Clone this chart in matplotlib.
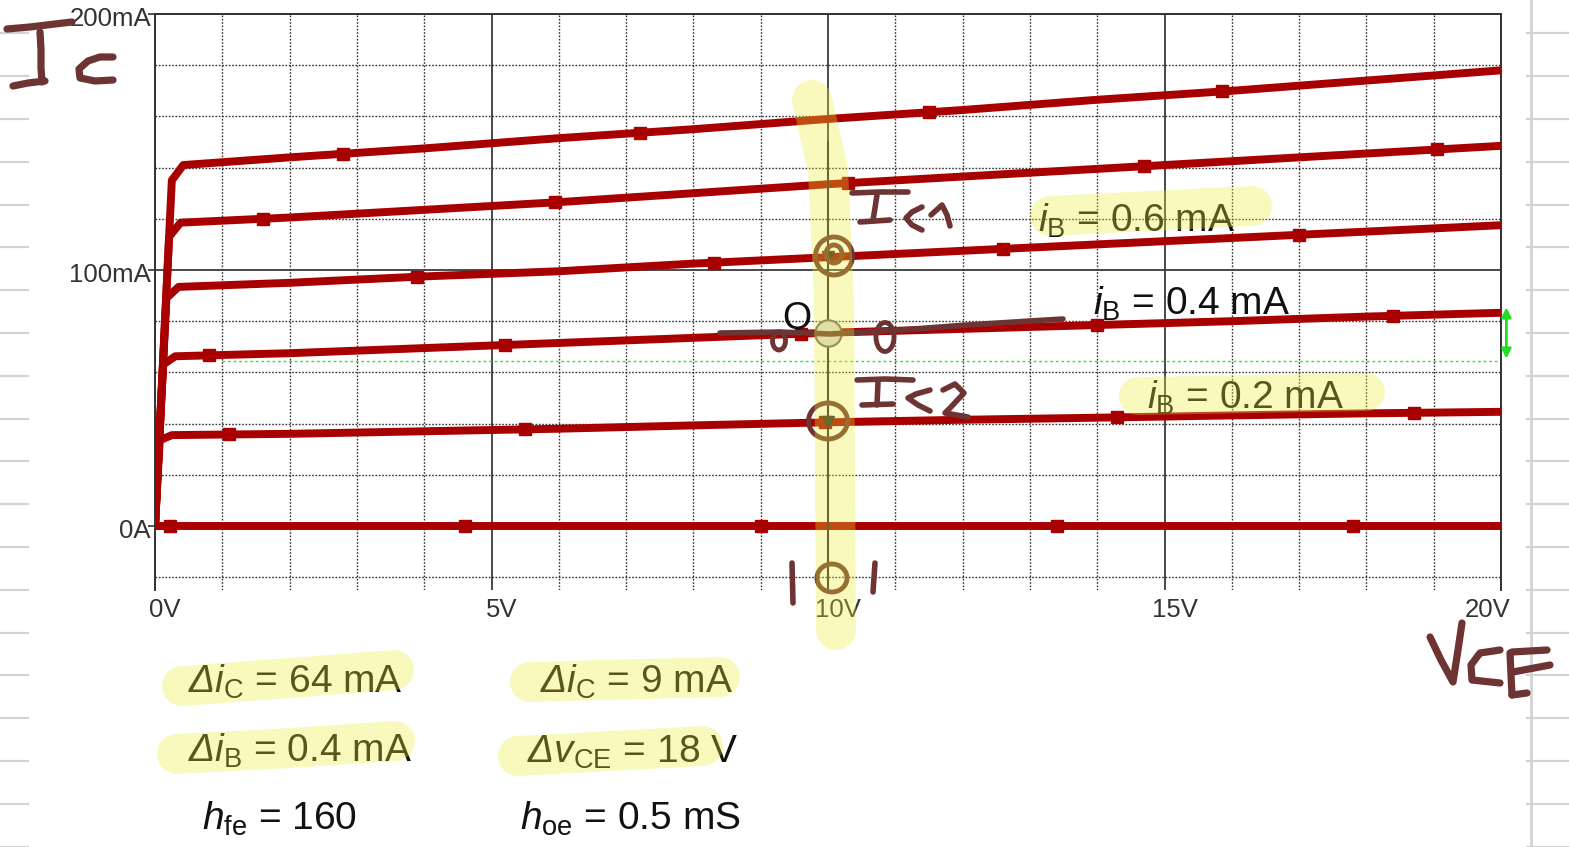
import numpy as np
import matplotlib
matplotlib.use('Agg')
import matplotlib.pyplot as plt
import matplotlib.transforms as mtransforms
from matplotlib.lines import Line2D
from matplotlib.patches import Ellipse, FancyArrowPatch

plt.rcParams['font.family'] = ['Liberation Sans', 'DejaVu Sans']
plt.rcParams['mathtext.fontset'] = 'custom'
plt.rcParams['mathtext.rm'] = 'Liberation Sans'
plt.rcParams['mathtext.it'] = 'Liberation Sans:italic'
plt.rcParams['mathtext.bf'] = 'Liberation Sans:bold'
# sans-serif slot used for the slanted Delta
plt.rcParams['mathtext.sf'] = 'Liberation Sans:italic'

# ---------------- data ----------------
x_ticks = [0, 5, 10, 15, 20]
x_tick_labels = ['0V', '5V', '10V', '15V', '20V']
x_minor = [1, 2, 3, 4, 6, 7, 8, 9, 11, 12, 13, 14, 16, 17, 18, 19]
y_ticks = [0, 100, 200]
y_tick_labels = ['0A', '100mA', '200mA']
y_minor = [-20, 20, 40, 60, 80, 120, 140, 160, 180]

# output characteristics (VCE in V, iC in mA), one curve per base current
vce_ib00 = [0, 20]
ic_ib00 = [0, 0]
vce_ib02 = [0, 0.07, 0.25, 2, 4, 6, 8, 10, 12, 14, 16, 18, 20]
ic_ib02 = [0, 33.5, 35.5, 36, 37, 38, 39.3, 40.5, 41.5, 42.3, 43.2, 44, 44.6]
vce_ib04 = [0, 0.12, 0.3, 2, 4, 6, 8, 10, 12, 14, 16, 18, 20]
ic_ib04 = [0, 63, 66.3, 67.5, 69.5, 71.5, 73.5, 75.5, 77, 78.5, 80, 81.8, 83.3]
vce_ib06 = [0, 0.17, 0.35, 2, 4, 6, 8, 10, 12, 14, 16, 18, 20]
ic_ib06 = [0, 89, 93.4, 95, 97.5, 99.5, 102.5, 105, 107.5, 110, 112.5, 115, 117.5]
vce_ib08 = [0, 0.21, 0.38, 2, 4, 6, 8, 10, 12, 14, 16, 18, 20]
ic_ib08 = [0, 113, 118.5, 120.5, 123.5, 126.5, 130, 133.5, 136.5, 139.5, 142.5, 145.5, 148.5]
vce_ib10 = [0, 0.25, 0.42, 2, 4, 6, 8, 10, 12, 14, 16, 18, 20]
ic_ib10 = [0, 135, 141, 144, 147.5, 151.5, 155, 159, 162.5, 166.5, 170, 174, 178]

# simulation sample markers (VCE positions) per curve
mk_ib00 = [0.22, 4.6, 9.0, 13.4, 17.8]
mk_ib02 = [1.1, 5.5, 9.95, 14.3, 18.7]
mk_ib04 = [0.8, 5.2, 9.6, 14.0, 18.4]
mk_ib06 = [3.9, 8.3, 12.6, 17.0]
mk_ib08 = [1.6, 5.95, 10.3, 14.7, 19.05]
mk_ib10 = [2.8, 7.2, 11.5, 15.85]

q_vce, q_ic = 10, 75.5
ic1 = 105.0
ic2 = 40.5
green_level = 64.6
green_arrow = (64.3, 86.5)

curve_labels = [r'$\mathit{i}_{\mathrm{B}}$ = 0.6 mA',
                r'$\mathit{i}_{\mathrm{B}}$ = 0.4 mA',
                r'$\mathit{i}_{\mathrm{B}}$ = 0.2 mA']
curve_label_pos = [(13.12, 114.8), (13.94, 82.4), (14.74, 45.7)]

bottom_texts = [r'$\mathsf{Δ}\mathit{i}_{\mathrm{C}}$ = 64 mA',
                r'$\mathsf{Δ}\mathit{i}_{\mathrm{B}}$ = 0.4 mA',
                r'$\mathit{h}_{\mathrm{fe}}$ = 160',
                r'$\mathsf{Δ}\mathit{i}_{\mathrm{C}}$ = 9 mA',
                r'$\mathsf{Δ}\mathit{v}_{\mathrm{CE}}$ = 18 V',
                r'$\mathit{h}_{\mathrm{oe}}$ = 0.5 mS']
bottom_pos = [(188, 693), (188, 762), (202, 830), (540, 693), (527, 763), (520, 830)]

# ---------------- figure ----------------
W, H = 1569, 847
fig = plt.figure(figsize=(W / 100, H / 100), dpi=100)
fig.patch.set_facecolor('white')
T = mtransforms.Affine2D().scale(1 / W, -1 / H).translate(0, 1) + fig.transFigure

ax = fig.add_axes([155 / W, (H - 590) / H, (1501 - 155) / W, (590 - 14) / H])
ax.set_xlim(0, 20)
ax.set_ylim(-25, 200)
ax.set_facecolor('none')
for s in ['top', 'left', 'right']:
    ax.spines[s].set_color('#333333')
    ax.spines[s].set_linewidth(1.4)
ax.spines['bottom'].set_visible(False)
ax.set_xticks(x_ticks)
ax.set_yticks(y_ticks)
ax.set_xticks(x_minor, minor=True)
ax.set_yticks(y_minor, minor=True)
ax.tick_params(which='both', labelbottom=False, labelleft=False)
ax.tick_params(axis='x', which='both', length=0)
ax.tick_params(axis='y', which='major', length=5, color='#333333', width=1.2)
ax.tick_params(axis='y', which='minor', length=0)
ax.grid(which='major', color='#3a3a3a', lw=1.3, ls='-', zorder=0.5)
ax.grid(which='minor', color='#333333', lw=1.0, ls=(0, (1.2, 1.2)), zorder=0.5)
ax.set_axisbelow(True)

for v, lab in zip(x_ticks, x_tick_labels):
    dx = -13 if v == 20 else 10
    ax.annotate(lab, xy=(v, 0), xycoords=('data', 'axes fraction'), xytext=(dx, -20),
                textcoords='offset pixels', ha='center', va='center', fontsize=18.5,
                color='#333333')
for v, lab in zip(y_ticks, y_tick_labels):
    ax.annotate(lab, xy=(0, v), xycoords=('axes fraction', 'data'), xytext=(-4, -5),
                textcoords='offset pixels', ha='right', va='center', fontsize=18.5,
                color='#333333')

# green reference line and arrow
ax.plot([1, 20], [green_level, green_level], color='#22ee22', lw=1.0, ls=(0, (2, 2)), zorder=1)
arr = FancyArrowPatch((20.08, green_arrow[0]), (20.08, green_arrow[1]), arrowstyle='<|-|>',
                      mutation_scale=14, color='#22dd22', lw=2.0, clip_on=False, zorder=5)
ax.add_patch(arr)

red = '#a80000'
curves = [(vce_ib00, ic_ib00, mk_ib00), (vce_ib02, ic_ib02, mk_ib02),
          (vce_ib04, ic_ib04, mk_ib04), (vce_ib06, ic_ib06, mk_ib06),
          (vce_ib08, ic_ib08, mk_ib08), (vce_ib10, ic_ib10, mk_ib10)]
for v, i, mk in curves:
    ax.plot(v, i, color=red, lw=5.7, solid_capstyle='butt', solid_joinstyle='round', zorder=3)
    ax.plot(mk, np.interp(mk, v, i), 's', ms=9, color=red, zorder=3)

# cursor line with markers
ax.plot([q_vce, q_vce], [-25, 150], color='#2a2a2a', lw=1.5, zorder=4)
ax.plot([q_vce, q_vce], [ic1, ic2], 'v', ms=8, color='#2a2a2a', zorder=4)
ax.plot(q_vce, q_ic, 'o', ms=19, mfc='#d8d8d8', mec='#666666', mew=1.5, zorder=5)
ax.text(9.76, q_ic + 1.5, 'Q', fontsize=27, ha='right', va='baseline', color='#111111', zorder=6)

for lab, (x, y) in zip(curve_labels, curve_label_pos):
    ax.text(x, y, lab, fontsize=28, ha='left', va='baseline', color='#111111', zorder=6)

for lab, (x, y) in zip(bottom_texts, bottom_pos):
    fig.text(x / W, 1 - y / H, lab, fontsize=28, ha='left', va='baseline', color='#111111')

# ---------------- notebook paper lines ----------------
paper = '#d3d3d3'
for k in range(20):
    yy = 33.5 + 42.8 * k
    fig.add_artist(Line2D([0, 28], [yy, yy], transform=T, color=paper, lw=1.6, zorder=1))
    fig.add_artist(Line2D([1527, 1569], [yy, yy], transform=T, color=paper, lw=1.6, zorder=1))
fig.add_artist(Line2D([1531, 1531], [0, 847], transform=T, color=paper, lw=2.0, zorder=1))

# ---------------- handwriting ----------------
ink = '#6e3434'
thick_strokes = [
    # Ic (top left)
    [(7, 29), (30, 27), (55, 24), (72, 22)],
    [(40, 32), (41, 50), (41, 68), (42, 82)],
    [(13, 86), (28, 83), (45, 81)],
    [(113, 57), (100, 57), (88, 61), (79, 69), (80, 78), (95, 81), (113, 80)],
    # VCE
    [(1430, 637), (1441, 660), (1453, 682), (1458, 650), (1462, 623)],
    [(1500, 650), (1480, 653), (1471, 665), (1472, 680), (1500, 683)],
    [(1512, 652), (1547, 650)],
    [(1510, 653), (1511, 675), (1512, 695)],
    [(1513, 672), (1550, 665)],
    [(1512, 695), (1527, 693)],
]
thin_strokes = [
    # Ic1
    [(852, 193), (880, 192), (908, 192)],
    [(877, 195), (875, 208), (873, 220)],
    [(860, 222), (875, 221), (890, 220)],
    [(922, 207), (912, 212), (906, 218), (912, 225), (922, 230)],
    [(931, 215), (942, 205), (947, 215), (950, 226)],
    # Ic2
    [(857, 380), (885, 379), (913, 380)],
    [(878, 382), (877, 405)],
    [(862, 405), (893, 404)],
    [(930, 390), (916, 394), (908, 398), (918, 405), (930, 411)],
    [(943, 390), (955, 384), (964, 393), (950, 408), (945, 413), (968, 417)],
    # line through Q
    [(720, 333), (780, 332), (830, 334), (900, 330), (967, 325), (1030, 321), (1063, 319)],
    # | O | under 10V
    [(792, 563), (793, 603)],
    [(875, 563), (873, 592)],
]
for st in thick_strokes:
    xs, ys = zip(*st)
    fig.add_artist(Line2D(xs, ys, transform=T, color=ink, lw=5.2, solid_capstyle='round',
                          solid_joinstyle='round', zorder=8))
for st in thin_strokes:
    xs, ys = zip(*st)
    fig.add_artist(Line2D(xs, ys, transform=T, color=ink, lw=4.0, solid_capstyle='round',
                          solid_joinstyle='round', zorder=8))
ellipses = [((834, 256), 37, 38), ((834, 254), 16, 18), ((828, 421), 39, 36),
            ((832, 578), 30, 28), ((779, 341), 13, 18), ((885, 337), 18, 29)]
for (cx, cy), w, h in ellipses:
    fig.add_artist(Ellipse((cx, cy), w, h, transform=T, fill=False, ec=ink, lw=3.5, zorder=8))

# ---------------- highlighter ----------------
hl = (0.95, 0.93, 0.2)
highlights = [
    ([(812, 100), (828, 170), (834, 300), (836, 630)], 40),
    ([(1050, 216), (1150, 211), (1252, 206)], 40),
    ([(1138, 396), (1366, 392)], 38),
    ([(182, 686), (290, 678), (394, 670)], 40),
    ([(177, 754), (290, 748), (395, 741)], 40),
    ([(530, 682), (720, 677)], 40),
    ([(518, 756), (610, 751), (703, 746)], 40),
    ([(1584, 117), (1592, 117)], 36),
]
for pts, wpx in highlights:
    xs, ys = zip(*pts)
    fig.add_artist(Line2D(xs, ys, transform=T, color=hl, alpha=0.32, lw=wpx * 0.72,
                          solid_capstyle='round', solid_joinstyle='round', zorder=10))

fig.savefig('out.png', dpi=100)
